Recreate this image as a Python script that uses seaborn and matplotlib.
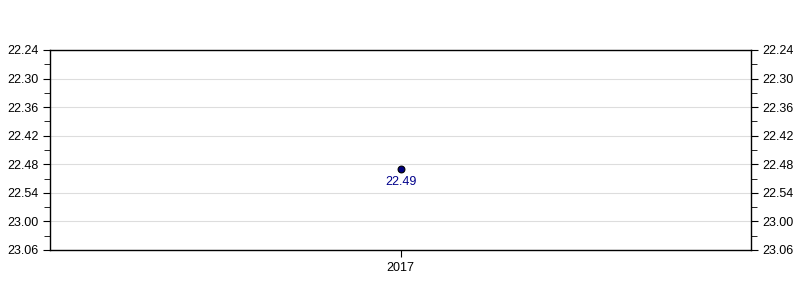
import matplotlib
matplotlib.use("Agg")
import matplotlib.pyplot as plt
import seaborn as sns
import pandas as pd
from matplotlib.ticker import MultipleLocator, FuncFormatter

years = ["2017"]
times_sec = [22 * 60 + 49]  # 22.49 (min.sec)
labels = ["22.49"]

sns.set_style("white")
plt.rcParams["font.family"] = ["Liberation Sans", "DejaVu Sans"]
plt.rcParams["text.color"] = "black"
plt.rcParams["xtick.color"] = "black"
plt.rcParams["ytick.color"] = "black"
plt.rcParams["xtick.labelcolor"] = "black"
plt.rcParams["ytick.labelcolor"] = "black"

df = pd.DataFrame({"year": years, "t": times_sec})

fig = plt.figure(figsize=(8, 3), dpi=100)
ax = fig.add_axes([0.0625, 0.1667, 0.87625, 0.6667])

sns.scatterplot(data=df, x="year", y="t", ax=ax, color="#000080",
                edgecolor="black", linewidth=0.8, s=24, zorder=3, legend=False)

for i, (yr, t, lab) in enumerate(zip(years, times_sec, labels)):
    ax.annotate(lab, (i, t), xytext=(0, -5), textcoords="offset points",
                ha="center", va="top", color="#00008b", fontsize=9)

ax.set_xlim(-0.5, 0.5)
ax.set_ylim(23 * 60 + 6, 22 * 60 + 24)
ax.yaxis.set_major_locator(MultipleLocator(6))
ax.yaxis.set_minor_locator(MultipleLocator(3))
ax.yaxis.set_major_formatter(FuncFormatter(lambda v, p: f"{int(v)//60}.{int(v)%60:02d}"))
ax.grid(axis="y", which="major", color="#dddddd", linewidth=0.8)
ax.set_axisbelow(True)
ax.set_xlabel("")
ax.set_ylabel("")
for s in ax.spines.values():
    s.set_color("black")
    s.set_linewidth(1)
ax.tick_params(axis="y", which="both", left=True, right=True, labelleft=True,
               labelright=True, direction="out", colors="black", labelsize=9)
ax.tick_params(axis="y", which="major", length=5)
ax.tick_params(axis="y", which="minor", length=4)
ax.tick_params(axis="x", bottom=True, length=5, direction="out", labelsize=9,
               colors="black")

fig.savefig("out.png", dpi=100)
